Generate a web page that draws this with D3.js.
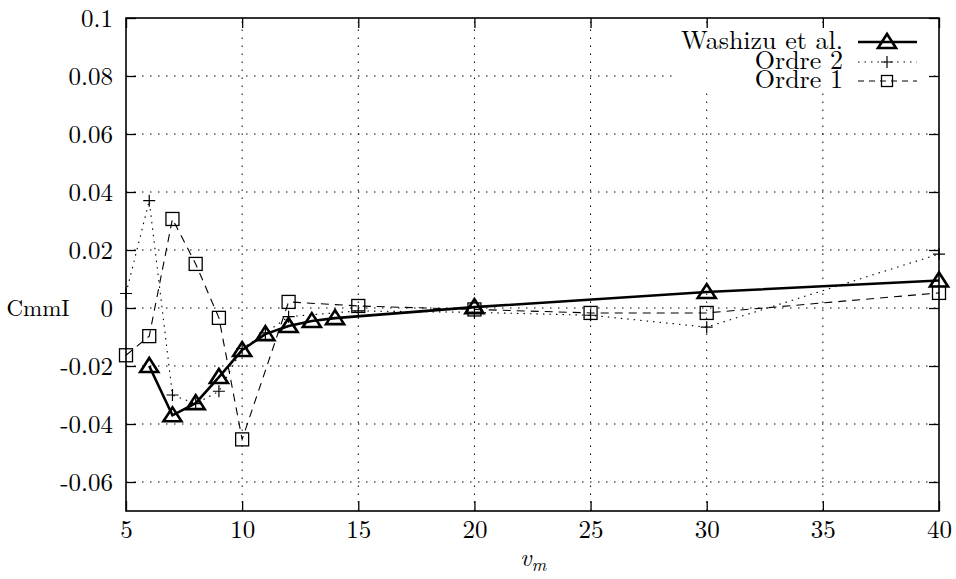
<!DOCTYPE html>
<html><head><meta charset="utf-8">
<script src="https://cdn.jsdelivr.net/npm/d3@7"></script>
<style>
html,body{margin:0;padding:0;background:#fff;}
svg{display:block;}
</style></head>
<body>
<svg id="c" width="956" height="579"></svg>
<script>
// ---- data ----
const washizuX = [6, 7, 8, 9, 10, 11, 12, 13, 14, 20, 30, 40];
const washizuY = [-0.020, -0.037, -0.0328, -0.0238, -0.0145, -0.009, -0.0062, -0.0045, -0.0035, 0.0003, 0.0055, 0.0095];
const ordre2X = [5, 6, 7, 8, 9, 10, 11, 12, 15, 20, 25, 30, 40];
const ordre2Y = [0.005, 0.037, -0.030, -0.033, -0.0287, -0.014, -0.0086, -0.003, -0.001, -0.0015, -0.0025, -0.0066, 0.0186];
const ordre1X = [5, 6, 7, 8, 9, 10, 12, 15, 20, 25, 30, 40];
const ordre1Y = [-0.0163, -0.0097, 0.0307, 0.0152, -0.0034, -0.0453, 0.0021, 0.0007, -0.0005, -0.0017, -0.0017, 0.0052];
const xTicks = [5, 10, 15, 20, 25, 30, 35, 40];
const yTicks = [-0.06, -0.04, -0.02, 0, 0.02, 0.04, 0.06, 0.08, 0.1];
const yTickLabels = ["-0.06", "-0.04", "-0.02", "0", "0.02", "0.04", "0.06", "0.08", "0.1"];
const legendLabels = ["Washizu et al.", "Ordre 2", "Ordre 1"];

// ---- layout ----
const L = 126, R = 939, T = 18, B = 511;
const FONT = '"Latin Modern Roman", "Liberation Serif", serif';
const svg = d3.select("#c");
const x = d3.scaleLinear().domain([5, 40]).range([L, R]);
const y = d3.scaleLinear().domain([-0.07, 0.1]).range([B, T]);
const FS = 25;
const txt = sel => sel.attr("font-family", FONT).style("font-family", FONT).attr("fill", "#000");

// grid
const grid = svg.append("g").attr("stroke", "#000").attr("stroke-width", 1).attr("stroke-dasharray", "1.5,6.5");
grid.selectAll("line.gx").data(xTicks.filter(d => d > 5 && d < 40)).join("line")
  .attr("x1", d => x(d)).attr("x2", d => x(d)).attr("y1", B).attr("y2", T);
grid.selectAll("line.gy").data(yTicks.filter(d => d < 0.1)).join("line")
  .attr("y1", d => y(d)).attr("y2", d => y(d)).attr("x1", L).attr("x2", R);
// legend mask
svg.append("rect").attr("x", 672).attr("y", 29).attr("width", 256).attr("height", 64).attr("fill", "#fff");

// axes (ticks inward, mirrored)
const tk = 10;
const axB = svg.append("g").attr("transform", `translate(0,${B})`)
  .call(d3.axisBottom(x).tickValues(xTicks).tickSize(-tk).tickPadding(9).tickFormat(d3.format("d")));
const axT = svg.append("g").attr("transform", `translate(0,${T})`)
  .call(d3.axisTop(x).tickValues(xTicks).tickSize(-tk).tickFormat(""));
const axL = svg.append("g").attr("transform", `translate(${L},0)`)
  .call(d3.axisLeft(y).tickValues(yTicks).tickSize(-tk).tickPadding(13).tickFormat((d, i) => yTickLabels[i]));
const axR = svg.append("g").attr("transform", `translate(${R},0)`)
  .call(d3.axisRight(y).tickValues(yTicks).tickSize(-tk).tickFormat(""));
[axB, axT, axL, axR].forEach(a => {
  a.attr("font-family", FONT);
  a.select(".domain").remove();
  a.selectAll(".tick line").attr("stroke", "#000").attr("stroke-width", 1.3);
  a.selectAll("text").attr("font-size", FS).call(txt);
});
axB.selectAll("text").attr("dy", "0.72em");
axL.selectAll("text").attr("dy", "0.33em");
svg.append("rect").attr("x", L).attr("y", T).attr("width", R - L).attr("height", B - T)
  .attr("fill", "none").attr("stroke", "#000").attr("stroke-width", 1.6);

// axis labels
svg.append("text").attr("x", 38).attr("y", y(0) + 8).attr("text-anchor", "middle")
  .attr("font-size", 23).call(txt).text("CmmI");
const xl = svg.append("text").attr("x", 533).attr("y", 566).attr("text-anchor", "middle")
  .attr("font-size", FS).call(txt);
xl.append("tspan").attr("font-style", "italic").text("v");
xl.append("tspan").attr("font-style", "italic").attr("font-size", 18).attr("dy", 5).text("m");

// series
const line = d3.line().x(d => x(d[0])).y(d => y(d[1]));
const zip = (a, b) => a.map((v, i) => [v, b[i]]);
const dW = zip(washizuX, washizuY), d2 = zip(ordre2X, ordre2Y), d1 = zip(ordre1X, ordre1Y);

svg.append("path").datum(d2).attr("d", line).attr("fill", "none").attr("stroke", "#000")
  .attr("stroke-width", 1.1).attr("stroke-dasharray", "1.5,5");
svg.append("path").datum(d1).attr("d", line).attr("fill", "none").attr("stroke", "#000")
  .attr("stroke-width", 1.1).attr("stroke-dasharray", "8,6");
svg.append("path").datum(dW).attr("d", line).attr("fill", "none").attr("stroke", "#000")
  .attr("stroke-width", 2.6);

function tri(g, cx, cy) {
  g.append("path").attr("d", `M${cx - 9},${cy + 6}L${cx + 9},${cy + 6}L${cx},${cy - 8}Z`)
    .attr("fill", "none").attr("stroke", "#000").attr("stroke-width", 2.6).attr("stroke-linejoin", "miter");
}
function plus(g, cx, cy) {
  g.append("path").attr("d", `M${cx - 6},${cy}H${cx + 6}M${cx},${cy - 6}V${cy + 6}`)
    .attr("stroke", "#000").attr("stroke-width", 1.2).attr("fill", "none");
}
function sq(g, cx, cy, s) {
  g.append("rect").attr("x", cx - s / 2).attr("y", cy - s / 2).attr("width", s).attr("height", s)
    .attr("fill", "none").attr("stroke", "#000").attr("stroke-width", 1.3);
}
const mk = svg.append("g");
d2.forEach(d => plus(mk, x(d[0]), y(d[1])));
d1.forEach(d => sq(mk, x(d[0]), y(d[1]), 13));
dW.forEach(d => tri(mk, x(d[0]), y(d[1])));

// legend
const lg = svg.append("g");
const rows = [42, 62, 81];
legendLabels.forEach((t, i) => {
  lg.append("text").attr("x", 843).attr("y", rows[i] + 7).attr("text-anchor", "end")
    .attr("font-size", 26).call(txt).text(t);
});
lg.append("line").attr("x1", 858).attr("x2", 917).attr("y1", rows[0]).attr("y2", rows[0])
  .attr("stroke", "#000").attr("stroke-width", 2.6);
tri(lg, 887, rows[0]);
lg.append("line").attr("x1", 858).attr("x2", 917).attr("y1", rows[1]).attr("y2", rows[1])
  .attr("stroke", "#000").attr("stroke-width", 1.1).attr("stroke-dasharray", "1.5,5");
plus(lg, 887, rows[1]);
lg.append("line").attr("x1", 858).attr("x2", 917).attr("y1", rows[2]).attr("y2", rows[2])
  .attr("stroke", "#000").attr("stroke-width", 1.1).attr("stroke-dasharray", "6,5");
sq(lg, 887, rows[2], 11);
</script>
</body></html>
